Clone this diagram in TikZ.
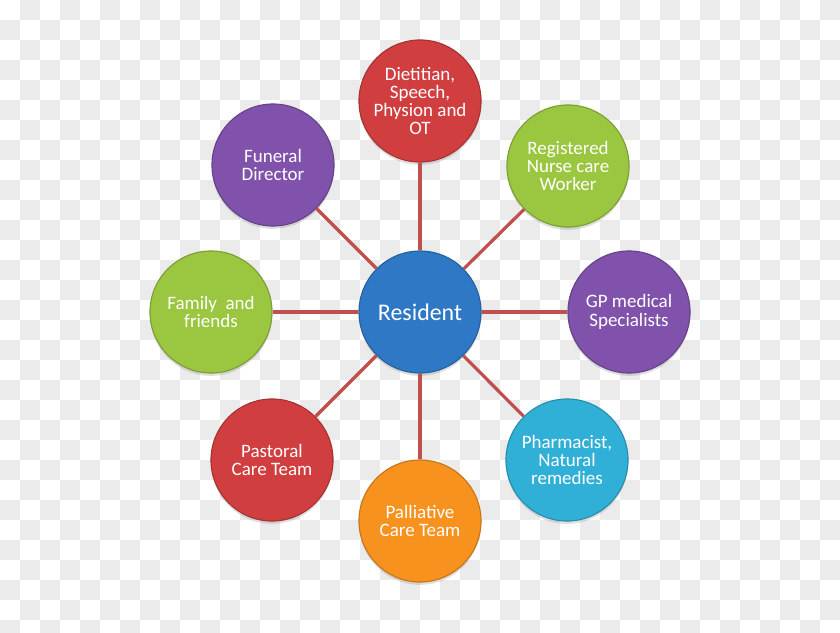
\documentclass[tikz,border=0pt]{standalone}
\usepackage{fontspec}
\setmainfont{Carlito}
\usetikzlibrary{shadows}
\definecolor{chk}{HTML}{EBEBEB}
\definecolor{linkred}{HTML}{C0504D}
\definecolor{ballred}{HTML}{D03E3F}
\definecolor{ballgreen}{HTML}{9BC640}
\definecolor{ballpurple}{HTML}{8052AB}
\definecolor{ballblue}{HTML}{2F78C6}
\definecolor{ballcyan}{HTML}{31B0D7}
\definecolor{ballorange}{HTML}{F7921F}
\tikzset{
 ball/.style={circle,minimum size=3.05cm,inner sep=0pt,fill=#1,draw=#1!80!black,line width=.8pt,
  drop shadow={opacity=.25,shadow xshift=0pt,shadow yshift=-2pt},
  text=white,align=center,font=\fontsize{13.5}{13}\selectfont},
 link/.style={linkred,line width=2.3pt}
}
\begin{document}
\begin{tikzpicture}[x=.025cm,y=-.025cm]
 \useasboundingbox (0,0) rectangle (840,632);
 \fill[white] (0,0) rectangle (840,632);
 \foreach \i in {0,...,41} \foreach \j in {0,...,31} {
  \pgfmathparse{int(mod(\i+\j,2))}
  \ifnum\pgfmathresult=1 \fill[chk] (20*\i,20*\j) rectangle ++(20,20); \fi
 }
 \node[ball=ballblue,font=\fontsize{17}{17}\selectfont] (res) at (420,312) {Resident};
 \node[ball=ballred] (diet) at (420,101) {Dietitian,\\Speech,\\Physion and\\OT};
 \node[ball=ballgreen] (nurse) at (568,166) {Registered\\Nurse care\\Worker};
 \node[ball=ballpurple] (gp) at (629,312) {GP medical\\Specialists};
 \node[ball=ballcyan] (pharm) at (567,460) {Pharmacist,\\Natural\\remedies};
 \node[ball=ballorange] (pall) at (420,521) {Palliative\\Care Team};
 \node[ball=ballred] (past) at (272,460) {Pastoral\\Care Team};
 \node[ball=ballgreen] (fam) at (211,312) {Family~ and\\friends};
 \node[ball=ballpurple] (fun) at (273,165) {Funeral\\Director};
 \foreach \n in {diet,nurse,gp,pharm,pall,past,fam,fun} \draw[link] (res) -- (\n);
\end{tikzpicture}
\end{document}
